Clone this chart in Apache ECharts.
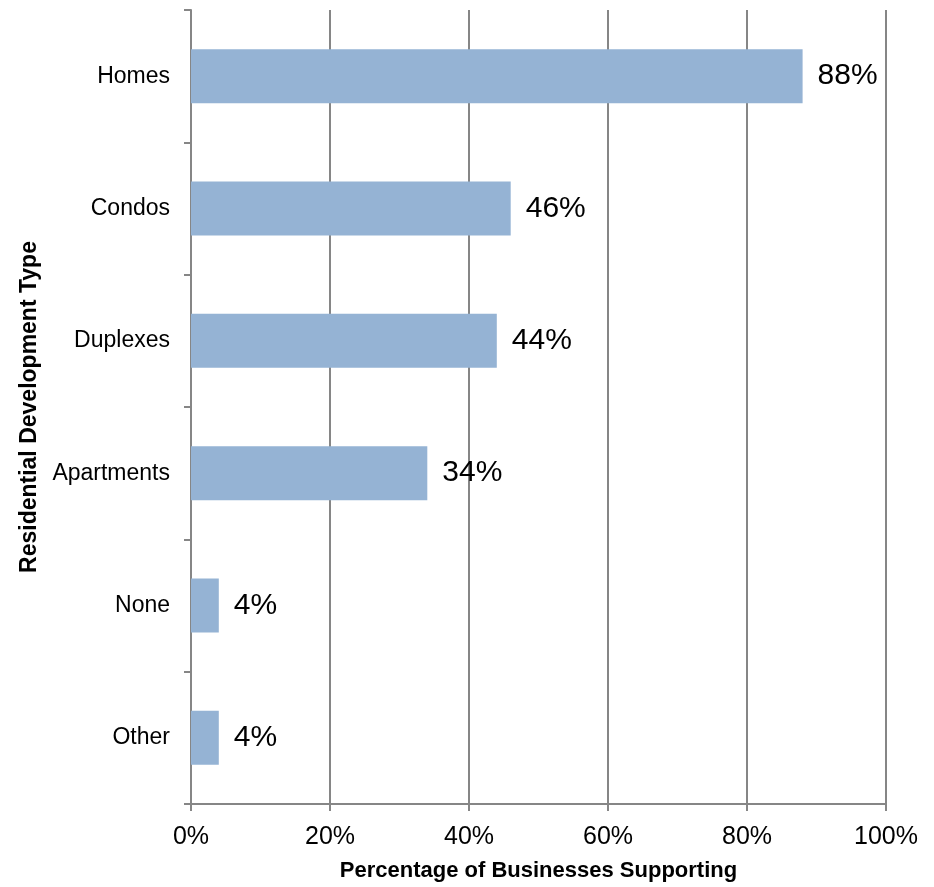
<!DOCTYPE html>
<html>
<head>
<meta charset="utf-8">
<script src="https://cdn.jsdelivr.net/npm/echarts@6/dist/echarts.min.js"></script>
<style>
  html, body { margin: 0; padding: 0; background: #ffffff; }
  #chart { width: 934px; height: 887px; }
</style>
</head>
<body>
<div id="chart"></div>
<script>
// Residential development types and the share of businesses supporting each
const categories = ['Homes', 'Condos', 'Duplexes', 'Apartments', 'None', 'Other'];
const supportPct = [88, 46, 44, 34, 4, 4];
const xTicks = { min: 0, max: 100, interval: 20 };

const FONT = '"Liberation Sans", Arial, sans-serif';
const AXIS_GRAY = '#868686';

const chart = echarts.init(document.getElementById('chart'), null, { renderer: 'canvas' });

chart.setOption({
  animation: false,
  backgroundColor: '#ffffff',
  grid: { left: 191, right: 48, top: 10, bottom: 81, containLabel: false },
  xAxis: {
    type: 'value',
    min: xTicks.min,
    max: xTicks.max,
    interval: xTicks.interval,
    name: 'Percentage of Businesses Supporting',
    nameLocation: 'middle',
    nameGap: 56,
    nameTextStyle: { fontFamily: FONT, fontSize: 22, fontWeight: 'bold', color: '#000' },
    axisLine: { show: true, lineStyle: { color: AXIS_GRAY, width: 2 } },
    axisTick: { show: true, length: 7, lineStyle: { color: AXIS_GRAY, width: 2 } },
    axisLabel: { formatter: '{value}%', margin: 21, fontFamily: FONT, fontSize: 25, color: '#000' },
    splitLine: { show: true, lineStyle: { color: AXIS_GRAY, width: 2 } }
  },
  yAxis: {
    type: 'category',
    data: categories,
    inverse: true,
    name: 'Residential Development Type',
    nameLocation: 'middle',
    nameGap: 150,
    nameRotate: 90,
    nameTextStyle: { fontFamily: FONT, fontSize: 23, fontWeight: 'bold', color: '#000' },
    axisLine: { show: true, lineStyle: { color: AXIS_GRAY, width: 2 } },
    axisTick: { show: true, length: 7, alignWithLabel: false, lineStyle: { color: AXIS_GRAY, width: 2 } },
    axisLabel: { margin: 21, fontFamily: FONT, fontSize: 23, color: '#000' },
    splitLine: { show: false }
  },
  series: [{
    type: 'bar',
    data: supportPct,
    barWidth: 54,
    itemStyle: { color: '#95B3D4' },
    label: {
      show: true,
      position: 'right',
      distance: 15,
      formatter: '{c}%',
      fontFamily: FONT,
      fontSize: 30,
      color: '#000'
    }
  }]
});
</script>
</body>
</html>
